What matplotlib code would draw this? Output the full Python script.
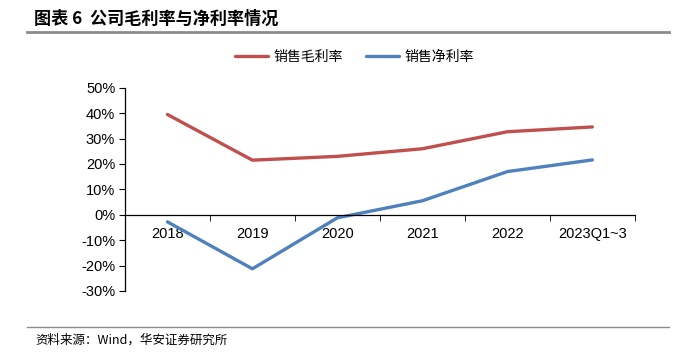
import matplotlib.pyplot as plt
import numpy as np
from matplotlib.ticker import FuncFormatter, FixedLocator

plt.rcParams['font.family'] = ['Liberation Sans', 'Noto Sans CJK SC', 'DejaVu Sans']

# data
years = ['2018', '2019', '2020', '2021', '2022', '2023Q1~3']
gross_margin = [39.5, 21.5, 23.0, 26.0, 32.7, 34.6]
net_margin = [-2.8, -21.3, -1.2, 5.5, 17.0, 21.6]

fig = plt.figure(figsize=(6.79, 3.6), dpi=100)
ax = fig.add_axes([0.184, 0.192, 0.751, 0.564])

x = np.arange(len(years))
ax.plot(x, gross_margin, color='#C0504D', lw=2.4, label='销售毛利率', solid_capstyle='round')
ax.plot(x, net_margin, color='#4F81BD', lw=2.4, label='销售净利率', solid_capstyle='round')

ax.set_xlim(-0.5, len(years) - 0.5)
ax.set_ylim(-30, 50)
ax.set_yticks(np.arange(-30, 51, 10))
ax.yaxis.set_major_formatter(FuncFormatter(lambda v, p: f'{v:.0f}%'))
ax.tick_params(axis='y', direction='out', length=4, labelsize=10.5, pad=3, colors='black')

ax.spines['top'].set_visible(False)
ax.spines['right'].set_visible(False)
ax.spines['bottom'].set_position(('data', 0))
ax.spines['left'].set_linewidth(0.9)
ax.spines['bottom'].set_linewidth(0.9)

ax.set_xticks(x)
ax.set_xticklabels(years, fontsize=10.5)
ax.tick_params(axis='x', which='major', length=0, pad=9)
ax.xaxis.set_minor_locator(FixedLocator(np.arange(-0.5, len(years), 1)))
ax.tick_params(axis='x', which='minor', direction='out', length=4)

leg = ax.legend(loc='lower center', bbox_to_anchor=(0.45, 1.055), ncol=2, frameon=False,
                prop={'family': 'Noto Sans CJK SC', 'size': 10}, handlelength=2.4,
                columnspacing=1.6, handletextpad=0.4)

# title and source
fig.text(0.05, 0.948, '图表 6  公司毛利率与净利率情况', fontsize=12.3, fontweight='bold',
         family=['Noto Sans CJK SC'], va='center')
fig.add_artist(plt.Line2D([0.04, 0.985], [0.91, 0.91], color='#8C8C8C', lw=2))
fig.add_artist(plt.Line2D([0.04, 0.985], [0.092, 0.092], color='#8C8C8C', lw=1))
fig.text(0.052, 0.055, '资料来源：Wind，华安证券研究所', fontsize=9,
         family=['Noto Sans CJK SC'], va='center')

fig.savefig('out.png', dpi=100)
